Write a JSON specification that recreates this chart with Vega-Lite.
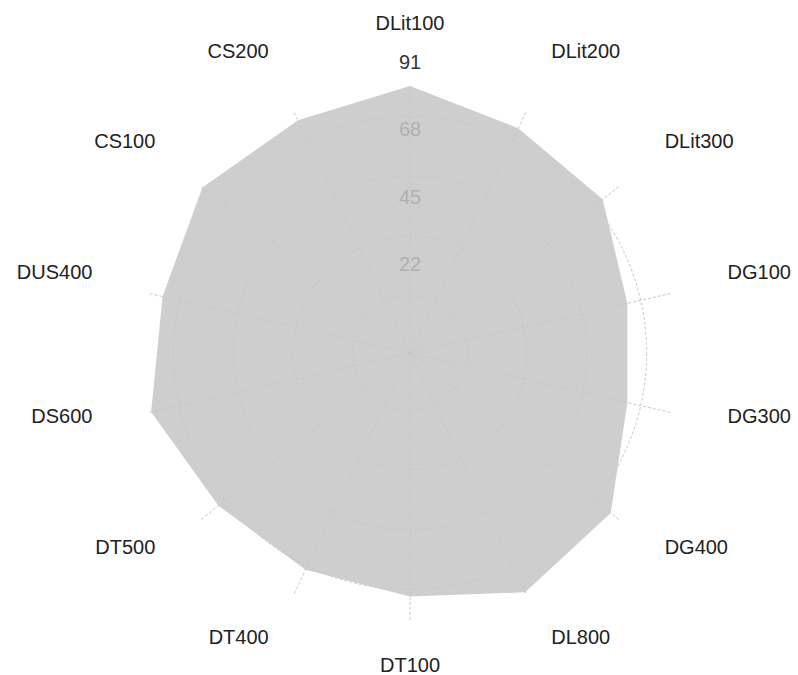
{
  "$schema": "https://vega.github.io/schema/vega-lite/v6.json",
  "width": 534,
  "height": 534,
  "autosize": {"type": "none"},
  "padding": {"left": 143, "top": 86, "right": 121, "bottom": 55},
  "background": "white",
  "config": {"view": {"stroke": null}, "font": "Liberation Sans"},
  "datasets": {
    "scores": [
      {"category": "DLit100", "value": 91},
      {"category": "DLit200", "value": 85},
      {"category": "DLit300", "value": 84},
      {"category": "DG100", "value": 76},
      {"category": "DG300", "value": 76},
      {"category": "DG400", "value": 87.5},
      {"category": "DL800", "value": 90.5},
      {"category": "DT100", "value": 83},
      {"category": "DT400", "value": 82},
      {"category": "DT500", "value": 83.5},
      {"category": "DS600", "value": 90.5},
      {"category": "DUS400", "value": 86.5},
      {"category": "CS100", "value": 90.5},
      {"category": "CS200", "value": 88}
    ],
    "ticks": [
      {"tick": 22},
      {"tick": 45},
      {"tick": 68},
      {"tick": 91}
    ]
  },
  "layer": [
    {
      "data": {"name": "ticks"},
      "mark": {"type": "point", "shape": "circle", "filled": false, "stroke": "#c8c8c8", "strokeWidth": 1, "strokeDash": [3, 2], "opacity": 1},
      "encoding": {
        "x": {"datum": 0, "type": "quantitative", "scale": {"domain": [-91, 91], "nice": false, "zero": false}, "axis": null},
        "y": {"datum": 0, "type": "quantitative", "scale": {"domain": [-91, 91], "nice": false, "zero": false}, "axis": null},
        "size": {"field": "tick", "type": "quantitative", "scale": {"type": "pow", "exponent": 2, "domain": [0, 91], "range": [0, 223961], "zero": true}, "legend": null}
      }
    },
    {
      "data": {"name": "scores"},
      "transform": [
        {"window": [{"op": "row_number", "as": "idx"}]},
        {"calculate": "(datum.idx - 1) * 2 * PI / 14", "as": "ang"},
        {"calculate": "91 * sin(datum.ang)", "as": "sx"},
        {"calculate": "91 * cos(datum.ang)", "as": "sy"}
      ],
      "mark": {"type": "rule", "stroke": "#c8c8c8", "strokeWidth": 1, "strokeDash": [3, 2]},
      "encoding": {
        "x": {"field": "sx", "type": "quantitative", "scale": {"domain": [-91, 91], "nice": false, "zero": false}, "axis": null},
        "y": {"field": "sy", "type": "quantitative", "scale": {"domain": [-91, 91], "nice": false, "zero": false}, "axis": null},
        "x2": {"datum": 0},
        "y2": {"datum": 0}
      }
    },
    {
      "data": {"name": "ticks"},
      "mark": {"type": "text", "fontSize": 20, "color": "#333333", "align": "center", "baseline": "middle", "dy": -23},
      "encoding": {
        "x": {"datum": 0, "type": "quantitative", "scale": {"domain": [-91, 91], "nice": false, "zero": false}, "axis": null},
        "y": {"field": "tick", "type": "quantitative", "scale": {"domain": [-91, 91], "nice": false, "zero": false}, "axis": null},
        "text": {"field": "tick", "type": "quantitative"}
      }
    },
    {
      "data": {"name": "scores"},
      "transform": [
        {"window": [{"op": "row_number", "as": "idx"}]},
        {"calculate": "(datum.idx - 1) * 2 * PI / 14", "as": "ang"},
        {"calculate": "datum.value * sin(datum.ang)", "as": "px"},
        {"calculate": "datum.value * cos(datum.ang)", "as": "py"}
      ],
      "mark": {"type": "line", "fill": "#c6c6c6", "fillOpacity": 0.85, "stroke": "#c6c6c6", "strokeWidth": 0, "strokeOpacity": 0},
      "encoding": {
        "x": {"field": "px", "type": "quantitative", "scale": {"domain": [-91, 91], "nice": false, "zero": false}, "axis": null},
        "y": {"field": "py", "type": "quantitative", "scale": {"domain": [-91, 91], "nice": false, "zero": false}, "axis": null},
        "order": {"field": "idx", "type": "quantitative"}
      }
    },
    {
      "data": {"name": "scores"},
      "transform": [
        {"window": [{"op": "row_number", "as": "idx"}]},
        {"calculate": "(datum.idx - 1) * 2 * PI / 14", "as": "ang"},
        {"calculate": "111 * sin(datum.ang)", "as": "lx"},
        {"calculate": "111 * cos(datum.ang)", "as": "ly"},
        {"filter": "datum.lx > 5"}
      ],
      "mark": {"type": "text", "fontSize": 20, "color": "#222222", "align": "left", "baseline": "middle", "dy": -8},
      "encoding": {
        "x": {"field": "lx", "type": "quantitative", "scale": {"domain": [-91, 91], "nice": false, "zero": false}, "axis": null},
        "y": {"field": "ly", "type": "quantitative", "scale": {"domain": [-91, 91], "nice": false, "zero": false}, "axis": null},
        "text": {"field": "category", "type": "nominal"}
      }
    },
    {
      "data": {"name": "scores"},
      "transform": [
        {"window": [{"op": "row_number", "as": "idx"}]},
        {"calculate": "(datum.idx - 1) * 2 * PI / 14", "as": "ang"},
        {"calculate": "111 * sin(datum.ang)", "as": "lx"},
        {"calculate": "111 * cos(datum.ang)", "as": "ly"},
        {"filter": "datum.lx < -5"}
      ],
      "mark": {"type": "text", "fontSize": 20, "color": "#222222", "align": "right", "baseline": "middle", "dy": -8},
      "encoding": {
        "x": {"field": "lx", "type": "quantitative", "scale": {"domain": [-91, 91], "nice": false, "zero": false}, "axis": null},
        "y": {"field": "ly", "type": "quantitative", "scale": {"domain": [-91, 91], "nice": false, "zero": false}, "axis": null},
        "text": {"field": "category", "type": "nominal"}
      }
    },
    {
      "data": {"name": "scores"},
      "transform": [
        {"window": [{"op": "row_number", "as": "idx"}]},
        {"calculate": "(datum.idx - 1) * 2 * PI / 14", "as": "ang"},
        {"calculate": "109.3 * sin(datum.ang)", "as": "lx"},
        {"calculate": "109.3 * cos(datum.ang)", "as": "ly"},
        {"filter": "abs(datum.lx) <= 5"}
      ],
      "mark": {"type": "text", "fontSize": 20, "color": "#222222", "align": "center", "baseline": "middle", "dy": -8},
      "encoding": {
        "x": {"field": "lx", "type": "quantitative", "scale": {"domain": [-91, 91], "nice": false, "zero": false}, "axis": null},
        "y": {"field": "ly", "type": "quantitative", "scale": {"domain": [-91, 91], "nice": false, "zero": false}, "axis": null},
        "text": {"field": "category", "type": "nominal"}
      }
    }
  ]
}
